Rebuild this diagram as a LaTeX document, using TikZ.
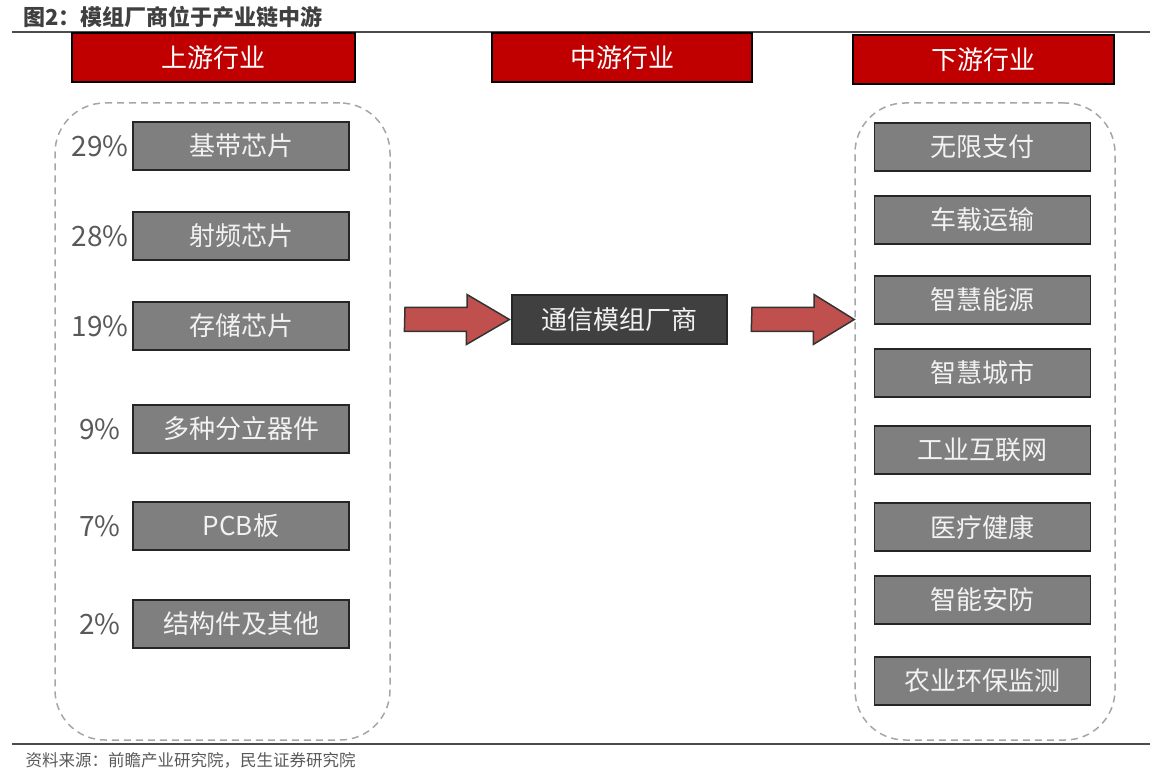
\documentclass[tikz,border=0pt]{standalone}
\usepackage{fontspec}
\setmainfont{Noto Sans CJK SC}
\usepackage{tikz}
\usetikzlibrary{positioning}
\definecolor{hdred}{HTML}{C00000}
\definecolor{boxgray}{HTML}{7F7F7F}
\definecolor{midgray}{HTML}{404040}
\definecolor{arrred}{HTML}{C0504D}
\definecolor{txtgray}{HTML}{595959}

\begin{document}
\begin{tikzpicture}[x=1pt,y=-1pt,font=\fontsize{26}{30}\selectfont]
		\tikzstyle{head}=[draw=black,line width=1.5pt,fill=hdred,text=white,minimum height=49pt,inner sep=0pt]
		\tikzstyle{item}=[draw=black!85,line width=1.2pt,fill=boxgray,text=white!95!black,minimum width=216pt,minimum height=48pt,inner sep=0pt]
		\tikzstyle{pct}=[text=txtgray,font=\fontsize{28}{32}\selectfont]
		\tikzstyle{group}=[draw=black!35,dash pattern=on 7pt off 5pt,line width=1.5pt,rounded corners=50pt,inner sep=0pt]
		\tikzstyle{blockarrow}=[draw=black!80,line width=1.5pt,fill=arrred,line join=miter]
		
		\useasboundingbox (0,0) rectangle (1154,775);
		
		% title and rules
		\node[anchor=west,text=midgray,font=\fontsize{22}{26}\selectfont\bfseries] (title) at (20,17) {图2：模组厂商位于产业链中游};
		\draw[black!70,line width=2pt] (12,32) -- (1150,32);
		\draw[black!70,line width=2pt] (12,744) -- (1150,744);
		\node[anchor=west,text=txtgray,font=\fontsize{16.5}{20}\selectfont] (src) at (22,760) {资料来源：前瞻产业研究院，民生证券研究院};
		
		% headers
		\node[head,minimum width=283pt] (uphd) at (213.5,57.5) {上游行业};
		\node[head,minimum width=260pt] (midhd) at (622,57.5) {中游行业};
		\node[head,minimum width=261pt] (downhd) at (983.5,59.5) {下游行业};
		
		% groups
		\node[group,minimum width=335pt,minimum height=637pt] (upgrp) at (222.5,421.5) {};
		\node[group,minimum width=260pt,minimum height=637pt] (downgrp) at (985,421.5) {};
		
		% upstream
		\foreach \name/\y/\txt/\p in {u1/146/基带芯片/29\%, u2/236/射频芯片/28\%,
			u3/326/存储芯片/19\%, u4/429/多种分立器件/9\%, u5/526/PCB板/7\%,
			u6/624/结构件及其他/2\%}
		{
			\node[item] (\name) at (241,\y) {\txt};
			\node[pct] (\name p) at (100,\y) {\p};
		}
		
		% midstream
		\node[item,fill=midgray,minimum width=215pt,minimum height=49pt] (mid) at (619.5,319.5) {通信模组厂商};
		
		% downstream
		\foreach \name/\y/\txt in {d1/147/无限支付, d2/220/车载运输, d3/300/智慧能源,
			d4/373/智慧城市, d5/450/工业互联网, d6/527/医疗健康, d7/600/智能安防,
			d8/681/农业环保监测}
		{
			\node[item] (\name) at (982.5,\y) {\txt};
		}
		
		% arrows
		\coordinate (a1) at (405,319.5);
		\coordinate (a2) at (752,319.5);
		\path[blockarrow] (a1) ++(0,-12) -- ++(62,0) -- ++(0,-13)
			-- ([xshift=-2pt]mid.west) -- ++(-43,25) -- ++(0,-13) -- ++(-62,0) -- cycle;
		\path[blockarrow] (a2) ++(0,-12) -- ++(62,0) -- ++(0,-13)
			-- (downgrp.west |- mid) -- ++(-41,25) -- ++(0,-13) -- ++(-62,0) -- cycle;
\end{tikzpicture}
\end{document}
